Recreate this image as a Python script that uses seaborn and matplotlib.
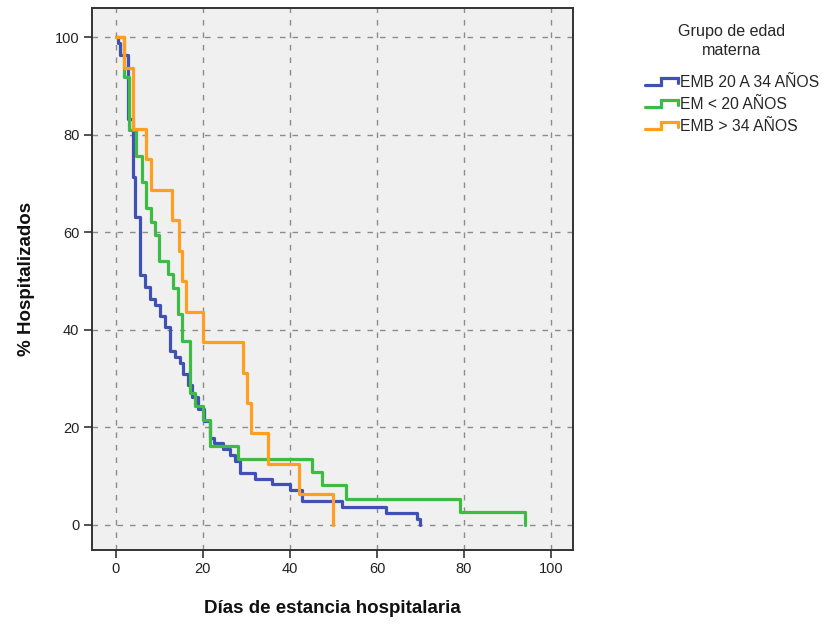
import numpy as np
import pandas as pd
import matplotlib
matplotlib.use("Agg")
import matplotlib.pyplot as plt
from matplotlib.legend_handler import HandlerBase
from matplotlib.lines import Line2D
import seaborn as sns

# Kaplan-Meier survival steps (days, % still hospitalised) per maternal age group
grupos = ["EMB 20 A 34 AÑOS", "EM < 20 AÑOS", "EMB > 34 AÑOS"]

t_20_34 = [0, 0.5, 1, 2.8, 3.9, 4.4, 5.5, 6.7, 7.8, 9, 10.1, 11.3, 12.4, 13.6, 14.7,
           15.5, 16.5, 17.5, 19, 20.3, 21.6, 22.5, 24.6, 26.2, 27.4, 28.5, 32, 35.8,
           40, 42.7, 52, 62, 69.3, 70]
s_20_34 = [100, 98.8, 96.4, 83.3, 71.4, 63.1, 51.2, 48.8, 46.4, 45.2, 42.9, 40.5, 35.7,
           34.5, 33.3, 31.0, 28.6, 26.2, 23.8, 21.4, 17.9, 16.7, 15.5, 14.3, 13.1, 10.7,
           9.5, 8.3, 7.1, 4.8, 3.6, 2.4, 1.2, 0]

t_menor20 = [0, 2, 3, 4.6, 6, 7, 8, 9, 10, 12, 13.1, 14.3, 15.2, 17, 18.2, 20, 21.6,
             28, 45, 47.3, 53, 79, 94]
s_menor20 = [100, 91.9, 81.1, 75.7, 70.3, 64.9, 62.2, 59.5, 54.1, 51.4, 48.6, 43.2,
             37.8, 27.0, 24.3, 21.6, 16.2, 13.5, 10.8, 8.1, 5.4, 2.7, 0]

t_mayor34 = [0, 2, 4, 7, 8, 13, 14.5, 15.3, 16.2, 20, 29.2, 30.1, 31, 35, 42, 50]
s_mayor34 = [100, 93.75, 81.25, 75, 68.75, 62.5, 56.25, 50, 43.75, 37.5, 31.25, 25,
             18.75, 12.5, 6.25, 0]

x_ticks = [0, 20, 40, 60, 80, 100]
y_ticks = [0, 20, 40, 60, 80, 100]

colores = ["#3F52B3", "#3DBB45", "#FF9E1F"]

df = pd.concat([
    pd.DataFrame({"dias": t_20_34, "pct": s_20_34, "grupo": grupos[0]}),
    pd.DataFrame({"dias": t_menor20, "pct": s_menor20, "grupo": grupos[1]}),
    pd.DataFrame({"dias": t_mayor34, "pct": s_mayor34, "grupo": grupos[2]}),
], ignore_index=True)

sns.set_theme(style="white")
plt.rcParams["font.family"] = ["Liberation Sans", "DejaVu Sans"]

fig = plt.figure(figsize=(8.35, 6.24), dpi=100)
ax = fig.add_axes([0.110, 0.119, 0.576, 0.868])
ax.set_facecolor("#F0F0F0")

sns.lineplot(data=df, x="dias", y="pct", hue="grupo", hue_order=grupos,
             palette=colores, estimator=None, sort=False, drawstyle="steps-post",
             linewidth=2.3, legend=False, ax=ax, zorder=3)

ax.set_xlim(-5.5, 105)
ax.set_ylim(-5.1, 106)
ax.set_xticks(x_ticks)
ax.set_yticks(y_ticks)
ax.tick_params(axis="both", which="major", direction="out", length=6, width=1.2,
               color="#333333", labelsize=10.5, labelcolor="#222222",
               bottom=True, left=True, top=False, right=False, pad=3)

for v in x_ticks:
    ax.axvline(v, color="#8C8C8C", linestyle=(0, (4, 5)), linewidth=1.0, zorder=1)
for v in y_ticks:
    ax.axhline(v, color="#8C8C8C", linestyle=(0, (4, 5)), linewidth=1.0, zorder=1)

for sp in ax.spines.values():
    sp.set_color("#333333")
    sp.set_linewidth(1.4)

ax.set_xlabel("Días de estancia hospitalaria", fontsize=13.5, fontweight="bold",
              labelpad=17, color="#111111")
ax.set_ylabel("% Hospitalizados", fontsize=13.5, fontweight="bold",
              labelpad=14, color="#111111")


class StepHandler(HandlerBase):
    """Legend key drawn as a small step line."""
    def create_artists(self, legend, orig_handle, xdescent, ydescent, width,
                       height, fontsize, trans):
        x0, w = -xdescent, width
        lo, hi = -ydescent + 0.2 * height, -ydescent + 0.85 * height
        xs = [x0, x0 + 0.5 * w, x0 + 0.5 * w, x0 + w, x0 + w]
        ys = [lo, lo, hi, hi, lo + 0.2 * height]
        line = Line2D(xs, ys, color=orig_handle.get_color(), linewidth=2.3,
                      solid_joinstyle="miter", transform=trans)
        return [line]


handles = [Line2D([], [], color=c) for c in colores]
leg = fig.legend(handles, grupos, title="Grupo de edad\nmaterna",
                 loc="upper left", bbox_to_anchor=(0.755, 0.984), frameon=False,
                 fontsize=11.3, title_fontsize=11.6, handlelength=2.1,
                 handletextpad=0.15, labelspacing=0.45,
                 handler_map={Line2D: StepHandler()})
leg.get_title().set_multialignment("center")
leg.get_title().set_linespacing(1.35)
leg._legend_box.align = "center"
leg._legend_box.sep = 12

fig.savefig("out.png", dpi=100)
